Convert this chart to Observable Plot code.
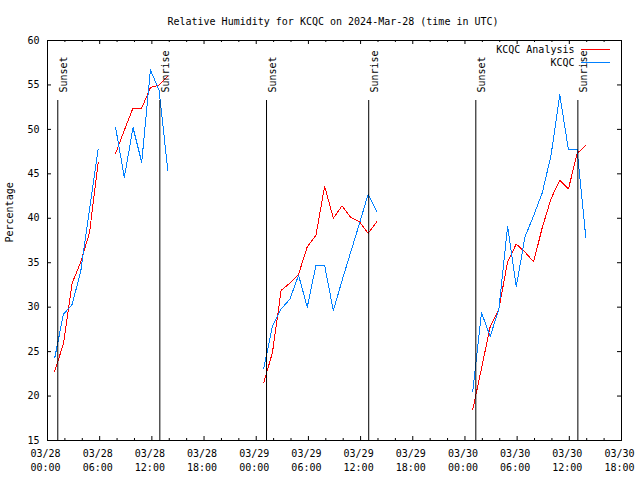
<!DOCTYPE html>
<html><head><meta charset="utf-8">
<script src="https://cdn.jsdelivr.net/npm/d3@7"></script>
<script src="https://cdn.jsdelivr.net/npm/@observablehq/plot@0.6"></script>
<style>body{margin:0;background:#fff}</style>
</head><body><div id="chart"></div>
<script>
const titleText = "Relative Humidity for KCQC on 2024-Mar-28 (time in UTC)";
const yLabel = "Percentage";
const seriesNames = ["KCQC Analysis", "KCQC"];
const seriesColors = ["#ff0000", "#0080ff"];

// observation times (UTC); entries with null values break the lines
const times = [
  "2024-03-28T00:50Z","2024-03-28T01:50Z","2024-03-28T02:50Z","2024-03-28T03:50Z","2024-03-28T04:50Z","2024-03-28T05:50Z",
  "2024-03-28T06:50Z",
  "2024-03-28T07:50Z","2024-03-28T08:50Z","2024-03-28T09:50Z","2024-03-28T10:50Z","2024-03-28T11:50Z","2024-03-28T12:50Z","2024-03-28T13:50Z",
  "2024-03-28T14:50Z",
  "2024-03-29T00:52Z","2024-03-29T01:52Z","2024-03-29T02:52Z","2024-03-29T03:52Z","2024-03-29T04:52Z","2024-03-29T05:52Z","2024-03-29T06:52Z",
  "2024-03-29T07:52Z","2024-03-29T08:52Z","2024-03-29T09:52Z","2024-03-29T10:52Z","2024-03-29T11:52Z","2024-03-29T12:52Z","2024-03-29T13:52Z",
  "2024-03-29T14:52Z",
  "2024-03-30T00:54Z","2024-03-30T01:54Z","2024-03-30T02:54Z","2024-03-30T03:54Z","2024-03-30T04:54Z","2024-03-30T05:54Z","2024-03-30T06:54Z",
  "2024-03-30T07:54Z","2024-03-30T08:54Z","2024-03-30T09:54Z","2024-03-30T10:54Z","2024-03-30T11:54Z","2024-03-30T12:54Z","2024-03-30T13:54Z"
];
const analysis = [
  22.8, 25.9, 32.7, 35.1, 38.4, 46.3,
  null,
  47.3, 49.9, 52.4, 52.4, 54.7, 55.0, 56.0,
  null,
  21.5, 24.9, 31.9, 32.7, 33.7, 36.8, 38.1, 43.6, 40.0, 41.4, 40.1, 39.6, 38.3, 39.6,
  null,
  18.5, 23.1, 27.8, 29.8, 35.1, 37.1, 36.2, 35.1, 39.0, 42.2, 44.3, 43.3, 47.3, 48.2
];
const observed = [
  24.3, 29.2, 30.3, 34.1, 41.0, 47.8,
  null,
  50.2, 44.6, 50.2, 46.3, 56.7, 54.4, 45.4,
  null,
  23.1, 27.9, 29.8, 30.9, 33.6, 30.0, 34.7, 34.7, 29.6, 33.0, 36.2, 39.4, 42.7, 40.7,
  null,
  20.5, 29.4, 26.7, 29.8, 39.1, 32.3, 37.9, 40.3, 42.9, 47.1, 53.9, 47.7, 47.7, 37.8
];

const sunTimes = ["2024-03-28T01:11Z","2024-03-28T12:55Z","2024-03-29T01:11Z","2024-03-29T12:56Z","2024-03-30T01:15Z","2024-03-30T12:59Z"];
const sunLabels = ["Sunset","Sunrise","Sunset","Sunrise","Sunset","Sunrise"];

const xStart = "2024-03-28T00:00Z", xEnd = "2024-03-30T18:00Z";
const yTicks = [15, 20, 25, 30, 35, 40, 45, 50, 55, 60];

const data = times.map((t, i) => ({t: new Date(t), a: analysis[i], o: observed[i]}));
const sun = sunTimes.map((t, i) => ({t: new Date(t), label: sunLabels[i]}));
const x0 = new Date(xStart), x1 = new Date(xEnd);
const majorTicks = d3.utcHour.every(6).range(x0, new Date(+x1 + 1));
const minorTicks = d3.utcHour.every(2).range(x0, new Date(+x1 + 1)).filter(d => d.getUTCHours() % 6 !== 0);
const fmt = d3.utcFormat("%m/%d\n%H:%M");

const W = 640, H = 480, mL = 47, mR = 19, mT = 40, mB = 40;
const fw = W - mL - mR, fh = H - mT - mB;

const chart = Plot.plot({
  width: W, height: H,
  marginLeft: mL, marginRight: mR, marginTop: mT, marginBottom: mB,
  style: {fontFamily: "'DejaVu Sans Mono', monospace", fontSize: "10px", background: "#fff", color: "#000", overflow: "visible"},
  x: {type: "utc", domain: [x0, x1], axis: null},
  y: {domain: [15, 60]},
  marks: [
    Plot.line(data, {x: "t", y: "a", stroke: seriesColors[0], strokeWidth: 1, shapeRendering: "crispEdges"}),
    Plot.line(data, {x: "t", y: "o", stroke: seriesColors[1], strokeWidth: 1, shapeRendering: "crispEdges"}),
    Plot.ruleX(sun, {x: "t", insetTop: 60, stroke: "#000", strokeWidth: 1}),
    Plot.text(sun, {x: "t", text: "label", frameAnchor: "top", dy: 52, dx: 2, rotate: -90, textAnchor: "start", fill: "#000"}),
    Plot.frame({stroke: "#000"}),
    // x ticks (inward, mirrored)
    Plot.ruleX(majorTicks, {x: d => d, insetTop: fh - 4, stroke: "#000"}),
    Plot.ruleX(majorTicks, {x: d => d, insetBottom: fh - 4, stroke: "#000"}),
    Plot.ruleX(minorTicks, {x: d => d, insetTop: fh - 2, stroke: "#000"}),
    Plot.ruleX(minorTicks, {x: d => d, insetBottom: fh - 2, stroke: "#000"}),
    // y ticks (inward, mirrored)
    Plot.ruleY(yTicks, {y: d => d, insetRight: fw - 4, stroke: "#000"}),
    Plot.ruleY(yTicks, {y: d => d, insetLeft: fw - 4, stroke: "#000"}),
    Plot.axisY({ticks: yTicks, tickSize: 0, tickPadding: 8, label: null, fill: "#000"}),
    Plot.text(majorTicks, {x: d => d, text: d => fmt(d), frameAnchor: "bottom", lineAnchor: "top", dy: 7, dx: -2, lineHeight: 1.4, fill: "#000"}),
    Plot.text([yLabel], {text: d => d, frameAnchor: "left", rotate: -90, dx: -38, dy: 2, fill: "#000"}),
    Plot.text([titleText], {text: d => d, frameAnchor: "top", lineAnchor: "bottom", dy: -16, dx: -1.5, fill: "#000"})
  ]
});

// legend (top right, inside frame)
const svg = d3.select(chart);
const lg = svg.append("g").attr("font-family", "'DejaVu Sans Mono', monospace").attr("font-size", 10);
[49.5, 62.5].forEach((y, i) => {
  lg.append("text").attr("x", 574.5).attr("y", y).attr("dy", "0.32em").attr("text-anchor", "end").attr("fill", "#000").text(seriesNames[i]);
  lg.append("path").attr("d", `M581,${y}H610`).attr("fill", "none").attr("stroke", seriesColors[i]).attr("stroke-width", 1).attr("shape-rendering", "crispEdges");
});

document.getElementById("chart").appendChild(chart);
</script>
</body></html>
